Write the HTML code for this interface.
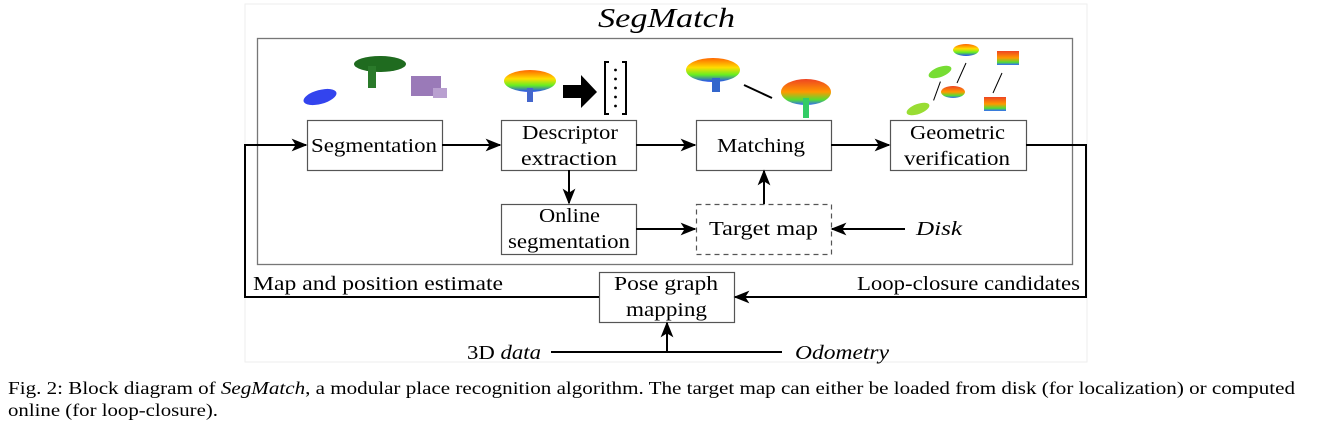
<!DOCTYPE html>
<html><head><meta charset="utf-8"><style>
body{margin:0;background:#fff;width:1327px;height:427px;overflow:hidden;font-family:"Liberation Serif",serif;}
</style></head><body>
<svg width="1327" height="427" style="position:absolute;left:0;top:0" font-family="Liberation Serif, serif">
<defs><marker id="a" viewBox="0 0 10 10" refX="9" refY="5" markerWidth="8" markerHeight="8" orient="auto"><path d="M0,1 L10,5 L0,9 L2.5,5z" fill="#000"/></marker>
<linearGradient id="g1" x1="0" y1="0" x2="0" y2="1"><stop offset="0" stop-color="#f60"/><stop offset=".4" stop-color="#fd0"/><stop offset=".7" stop-color="#6e2"/><stop offset="1" stop-color="#24f"/></linearGradient>
<linearGradient id="g2" x1="0" y1="0" x2="0" y2="1"><stop offset="0" stop-color="#e42"/><stop offset=".5" stop-color="#f90"/><stop offset=".8" stop-color="#5d3"/><stop offset="1" stop-color="#36f"/></linearGradient></defs>
<rect x="245" y="4" width="842" height="358" fill="none" stroke="#eee"/>
<text x="598" y="27" font-size="27" font-style="italic" textLength="137" lengthAdjust="spacingAndGlyphs">SegMatch</text>
<rect x="257.5" y="38.5" width="815" height="226" fill="none" stroke="#777" stroke-width="1.3"/>
<ellipse cx="320" cy="97" rx="17" ry="7" fill="#3344ee" transform="rotate(-15 320 97)"/>
<ellipse cx="380" cy="64" rx="26" ry="8" fill="#1f6b1f"/><rect x="368" y="66" width="8" height="22" fill="#2a7a2a"/>
<rect x="411" y="76" width="30" height="20" fill="#9a7ab8"/><rect x="433" y="88" width="14" height="10" fill="#b9a0d0"/>
<ellipse cx="530" cy="81" rx="26" ry="11" fill="url(#g1)"/><rect x="527" y="88" width="6" height="14" fill="#46c"/>
<polygon points="563,85 581,85 581,75 597,92 581,108 581,98 563,98" fill="#000"/>
<path d="M609,62 h-4 v52 h4 M622,62 h4 v52 h-4" fill="none" stroke="#000" stroke-width="2"/>
<g fill="#000"><circle cx="615.5" cy="70" r="1.4"/><circle cx="615.5" cy="79" r="1.4"/><circle cx="615.5" cy="88" r="1.4"/><circle cx="615.5" cy="97" r="1.4"/><circle cx="615.5" cy="106" r="1.4"/></g>
<ellipse cx="713" cy="70" rx="27" ry="12" fill="url(#g1)"/><rect x="712" y="78" width="8" height="14" fill="#36c"/>
<line x1="744" y1="85" x2="772" y2="98" stroke="#000" stroke-width="2"/>
<ellipse cx="806" cy="92" rx="25" ry="13" fill="url(#g2)"/><rect x="803" y="98" width="6" height="20" fill="#3c6"/>
<ellipse cx="940" cy="72" rx="12" ry="5" fill="#7d3" transform="rotate(-20 940 72)"/><ellipse cx="918" cy="109" rx="12" ry="5" fill="#9d3" transform="rotate(-20 918 109)"/>
<line x1="937" y1="101" x2="937" y2="81" stroke="#000" transform="rotate(20 937 91)"/>
<ellipse cx="966" cy="50" rx="13" ry="6" fill="url(#g1)"/><ellipse cx="953" cy="92" rx="12" ry="6" fill="url(#g2)"/>
<line x1="957" y1="83" x2="966" y2="63" stroke="#000"/>
<rect x="997" y="51" width="22" height="14" fill="url(#g2)"/><rect x="984" y="97" width="22" height="14" fill="url(#g2)"/>
<line x1="993" y1="93" x2="1002" y2="73" stroke="#000"/>
<g fill="#fff" stroke="#555" stroke-width="1.2">
<rect x="307.5" y="120.5" width="135" height="50"/>
<rect x="501.5" y="120.5" width="135" height="50"/>
<rect x="696.5" y="120.5" width="135" height="50"/>
<rect x="890.5" y="120.5" width="136" height="50"/>
<rect x="501.5" y="204.5" width="135" height="50"/>
<rect x="696.5" y="204.5" width="135" height="50" stroke-dasharray="5,4"/>
<rect x="599.5" y="272.5" width="135" height="50"/>
</g>
<g font-size="20" lengthAdjust="spacingAndGlyphs">
<text x="311" y="152" textLength="126" lengthAdjust="spacingAndGlyphs">Segmentation</text>
<text x="522" y="139" textLength="96" lengthAdjust="spacingAndGlyphs">Descriptor</text>
<text x="521" y="165" textLength="96" lengthAdjust="spacingAndGlyphs">extraction</text>
<text x="717" y="152" textLength="88" lengthAdjust="spacingAndGlyphs">Matching</text>
<text x="910" y="139" textLength="95" lengthAdjust="spacingAndGlyphs">Geometric</text>
<text x="904" y="165" textLength="106" lengthAdjust="spacingAndGlyphs">verification</text>
<text x="539" y="222" textLength="61" lengthAdjust="spacingAndGlyphs">Online</text>
<text x="508" y="248" textLength="122" lengthAdjust="spacingAndGlyphs">segmentation</text>
<text x="709" y="235" textLength="109" lengthAdjust="spacingAndGlyphs">Target map</text>
<text x="614" y="290" textLength="104" lengthAdjust="spacingAndGlyphs">Pose graph</text>
<text x="626" y="316" textLength="81" lengthAdjust="spacingAndGlyphs">mapping</text>
<text x="916" y="235" font-style="italic" textLength="46" lengthAdjust="spacingAndGlyphs">Disk</text>
<text x="253" y="290" textLength="250" lengthAdjust="spacingAndGlyphs">Map and position estimate</text>
<text x="857" y="290" textLength="223" lengthAdjust="spacingAndGlyphs">Loop-closure candidates</text>
<text x="467" y="359" textLength="74" lengthAdjust="spacingAndGlyphs">3D <tspan font-style="italic">data</tspan></text>
<text x="795" y="359" font-style="italic" textLength="94" lengthAdjust="spacingAndGlyphs">Odometry</text>
</g>
<g stroke="#000" stroke-width="2" fill="none">
<line x1="442" y1="145" x2="500" y2="145" marker-end="url(#a)"/>
<line x1="636" y1="145" x2="695" y2="145" marker-end="url(#a)"/>
<line x1="831" y1="145" x2="889" y2="145" marker-end="url(#a)"/>
<line x1="569" y1="170" x2="569" y2="203" marker-end="url(#a)"/>
<line x1="636" y1="229" x2="695" y2="229" marker-end="url(#a)"/>
<line x1="764" y1="204" x2="764" y2="171" marker-end="url(#a)"/>
<line x1="905" y1="229" x2="832" y2="229" marker-end="url(#a)"/>
<polyline points="599,297 245,297 245,145 306,145" marker-end="url(#a)"/>
<polyline points="1026,145 1086,145 1086,297 735,297" marker-end="url(#a)"/>
<line x1="551" y1="352" x2="782" y2="352"/>
<line x1="667" y1="352" x2="667" y2="323" marker-end="url(#a)"/>
</g>
<g font-size="18">
<text x="8" y="394" textLength="1287" lengthAdjust="spacingAndGlyphs">Fig. 2: Block diagram of <tspan font-style="italic">SegMatch</tspan>, a modular place recognition algorithm. The target map can either be loaded from disk (for localization) or computed</text>
<text x="8" y="416" textLength="210" lengthAdjust="spacingAndGlyphs">online (for loop-closure).</text>
</g>
</svg>
</body></html>
